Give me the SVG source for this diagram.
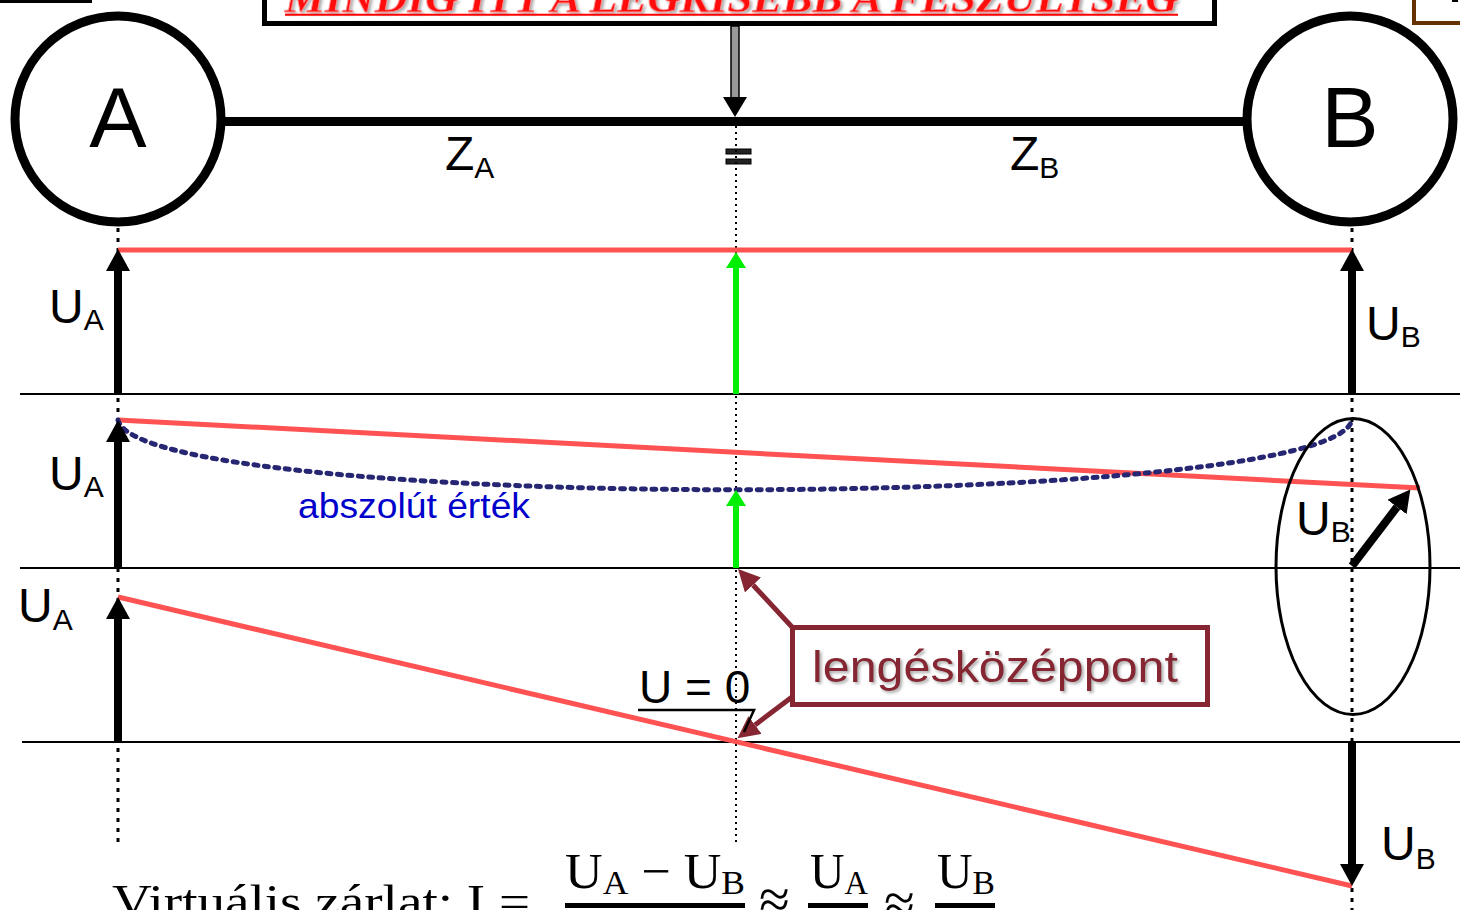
<svg xmlns="http://www.w3.org/2000/svg" width="1460" height="910" viewBox="0 0 1460 910">
<style>
.sans{font-family:"Liberation Sans",Arial,sans-serif;}
.serif{font-family:"Liberation Serif","Times New Roman",serif;}
.lbl{font-family:"Liberation Sans",Arial,sans-serif;font-size:48px;fill:#000;}
.sub{font-size:30px;}
.axis{stroke:#000;stroke-width:2;fill:none;}
.dotv{stroke:#000;stroke-width:3;stroke-dasharray:4 6;fill:none;}
.red{stroke:#FF5252;stroke-width:5;fill:none;}
.arr{stroke:#000;stroke-width:8;fill:none;}
.grn{stroke:#00EE00;stroke-width:6;fill:none;}
.mar{stroke:#862633;stroke-width:5;fill:none;}
</style>
<defs>
<marker id="hk" markerUnits="userSpaceOnUse" markerWidth="22" markerHeight="24" viewBox="0 0 22 24" refX="0" refY="12" orient="auto">
<path d="M0,0 L22,12 L0,24 z" fill="#000"/>
</marker>
<marker id="hg" markerUnits="userSpaceOnUse" markerWidth="16" markerHeight="20" viewBox="0 0 16 20" refX="0" refY="10" orient="auto">
<path d="M0,0 L16,10 L0,20 z" fill="#00EE00"/>
</marker>
<marker id="hm" markerUnits="userSpaceOnUse" markerWidth="22" markerHeight="22" viewBox="0 0 22 22" refX="0" refY="11" orient="auto">
<path d="M0,0 L22,11 L0,22 z" fill="#862633"/>
</marker>
<filter id="sh" x="-5%" y="-20%" width="110%" height="140%">
<feDropShadow dx="2" dy="2" stdDeviation="1.5" flood-color="#888" flood-opacity="0.7"/>
</filter>
</defs>

<!-- top fragments -->
<rect x="0" y="0" width="92" height="3" fill="#000"/>
<rect x="1414" y="-10" width="60" height="33" fill="none" stroke="#663300" stroke-width="4"/>
<rect x="1452" y="0" width="6" height="2" fill="#000"/>

<g id="banner">
<rect x="264.5" y="-20" width="950" height="43.5" fill="#fff" stroke="#000" stroke-width="5"/>
<text x="285" y="12" class="serif" font-size="42" font-weight="bold" font-style="italic" fill="#FF1010" stroke="#FF9090" stroke-width="0.8" textLength="893" lengthAdjust="spacingAndGlyphs" filter="url(#sh)">MINDIG ITT A LEGKISEBB A FESZÜLTSÉG</text>
<line x1="285" y1="14.8" x2="1178" y2="14.8" stroke="#FF0000" stroke-width="2"/>
</g>

<g id="busbar">
<line x1="222" y1="121.5" x2="1245" y2="121.5" stroke="#000" stroke-width="9"/>
<text x="445" y="170" class="lbl" font-size="46">Z<tspan class="sub" dy="8">A</tspan></text>
<text x="1010" y="170" class="lbl" font-size="46">Z<tspan class="sub" dy="8">B</tspan></text>
<rect x="726" y="149" width="25" height="5" fill="#222" stroke="#000" stroke-width="1"/>
<rect x="726" y="159" width="25" height="5" fill="#222" stroke="#000" stroke-width="1"/>
</g>

<g id="nodeA">
<circle cx="118" cy="119" r="103" fill="#fff" stroke="#000" stroke-width="9"/>
<text x="118" y="147" class="sans" font-size="86" text-anchor="middle">A</text>
</g>
<g id="nodeB">
<circle cx="1350" cy="119" r="103" fill="#fff" stroke="#000" stroke-width="9"/>
<text x="1350" y="147" class="sans" font-size="86" text-anchor="middle">B</text>
</g>

<g id="axes">
<line class="axis" x1="20" y1="394" x2="1460" y2="394"/>
<line class="axis" x1="20" y1="568" x2="1460" y2="568"/>
<line class="axis" x1="22" y1="742" x2="1460" y2="742"/>
<line class="dotv" x1="118" y1="228" x2="118" y2="845"/>
<line class="dotv" x1="1352" y1="228" x2="1352" y2="910"/>
<line x1="736" y1="126" x2="736" y2="842" stroke="#000" stroke-width="2" stroke-dasharray="2 4"/>
</g>

<g id="connectors">
<!-- pointer from banner -->
<rect x="731" y="26" width="8" height="72" fill="#999" stroke="#000" stroke-width="1.5"/>
<polygon points="723,97 747,97 735,117" fill="#000"/>

<!-- section 1 -->
<line class="red" x1="118" y1="250" x2="1352" y2="250"/>
<line class="arr" x1="118" y1="394" x2="118" y2="271" marker-end="url(#hk)"/>
<line class="arr" x1="1352" y1="394" x2="1352" y2="271" marker-end="url(#hk)"/>
<line class="grn" x1="736" y1="394" x2="736" y2="268" marker-end="url(#hg)"/>

<!-- section 2 -->
<line class="red" x1="118" y1="420" x2="1420" y2="488"/>
<path d="M118,420 C140,513 1330,513 1352,420" fill="none" stroke="#262673" stroke-width="5" stroke-dasharray="4 6.5" stroke-linecap="round"/>
<line class="arr" x1="118" y1="568" x2="118" y2="442" marker-end="url(#hk)"/>
<line class="grn" x1="736" y1="568" x2="736" y2="506" marker-end="url(#hg)"/>
<line class="arr" x1="1352" y1="566" x2="1397" y2="507" marker-end="url(#hk)"/>
<ellipse cx="1353" cy="566.5" rx="77" ry="148" fill="none" stroke="#000" stroke-width="3"/>

<!-- section 3 -->
<line class="red" x1="118" y1="597" x2="1352" y2="886"/>
<line class="arr" x1="118" y1="742" x2="118" y2="619" marker-end="url(#hk)"/>
<line class="arr" x1="1352" y1="742" x2="1352" y2="864" marker-end="url(#hk)"/>

<!-- lengeskozeppont pointers -->
<line class="mar" x1="792" y1="627" x2="753" y2="585" marker-end="url(#hm)"/>
<line class="mar" x1="792" y1="697" x2="755" y2="725" marker-end="url(#hm)"/>

<!-- U=0 underline pointer -->
<polyline points="638,710 754,710 744,732" fill="none" stroke="#000" stroke-width="2.5"/>
</g>

<g id="labels">
<text x="49" y="323" class="lbl">U<tspan class="sub" dy="7">A</tspan></text>
<text x="1366" y="340" class="lbl">U<tspan class="sub" dy="7">B</tspan></text>
<text x="49" y="490" class="lbl">U<tspan class="sub" dy="7">A</tspan></text>
<text x="1296" y="535" class="lbl">U<tspan class="sub" dy="7">B</tspan></text>
<text x="18" y="622" class="lbl">U<tspan class="sub" dy="8">A</tspan></text>
<text x="1381" y="860" class="lbl">U<tspan class="sub" dy="9">B</tspan></text>
<text x="298" y="518" class="sans" font-size="35" fill="#0000CC" textLength="232" lengthAdjust="spacingAndGlyphs">abszolút érték</text>
<text x="639" y="703" class="sans" font-size="46">U = 0</text>
</g>

<g id="lengeskozeppont">
<rect x="792.5" y="627.5" width="415" height="77" fill="#fff" stroke="#862633" stroke-width="5"/>
<text x="812" y="682" class="sans" font-size="45" fill="#862633" textLength="366" lengthAdjust="spacingAndGlyphs" filter="url(#sh)">lengésközéppont</text>
</g>

<g id="formula" class="serif">
<text x="112" y="917" font-size="46" textLength="418" lengthAdjust="spacingAndGlyphs">Virtuális zárlat:  I =</text>
<text x="565" y="888" font-size="50" textLength="180" lengthAdjust="spacingAndGlyphs">U<tspan font-size="34" dy="6">A</tspan><tspan dy="-6"> − U</tspan><tspan font-size="34" dy="6">B</tspan></text>
<rect x="565" y="903" width="180" height="5" fill="#000"/>
<text x="759" y="918" font-size="56">≈</text>
<text x="810" y="888" font-size="50" textLength="58" lengthAdjust="spacingAndGlyphs">U<tspan font-size="34" dy="6">A</tspan></text>
<rect x="808" y="903" width="60" height="5" fill="#000"/>
<text x="884" y="922" font-size="56">≈</text>
<text x="937" y="888" font-size="50" textLength="58" lengthAdjust="spacingAndGlyphs">U<tspan font-size="34" dy="6">B</tspan></text>
<rect x="935" y="903" width="60" height="5" fill="#000"/>
</g>
</svg>
